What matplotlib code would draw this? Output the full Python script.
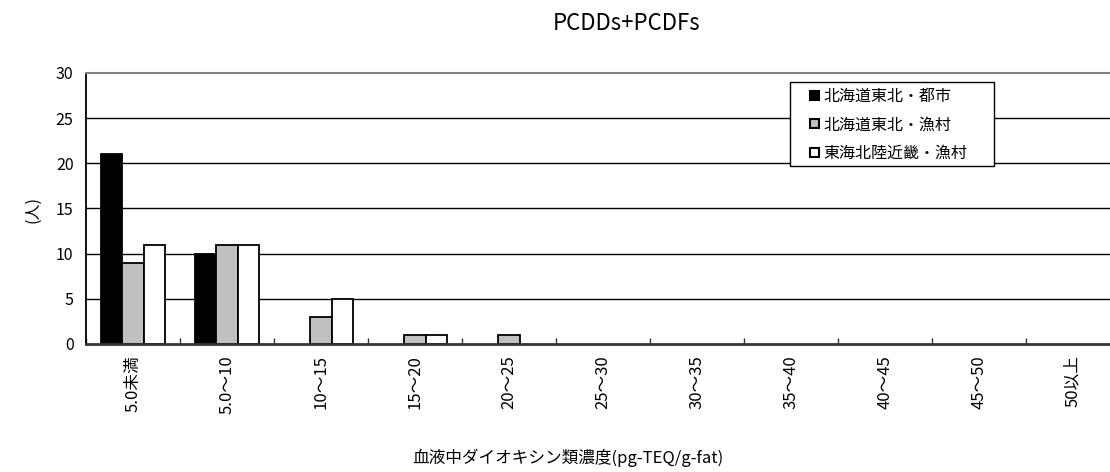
import matplotlib
matplotlib.use("agg")
import matplotlib.pyplot as plt
from matplotlib.patches import Rectangle, Patch
from matplotlib.legend_handler import HandlerPatch
import numpy as np

plt.rcParams['font.family'] = ['Noto Sans CJK JP', 'DejaVu Sans']

categories = ["5.0未満", "5.0～10", "10～15", "15～20", "20～25", "25～30",
              "30～35", "35～40", "40～45", "45～50", "50以上"]
series_names = ["北海道東北・都市", "北海道東北・漁村", "東海北陸近畿・漁村"]
toshi = [21, 10, 0, 0, 0, 0, 0, 0, 0, 0, 0]
gyoson_hokkaido = [9, 11, 3, 1, 1, 0, 0, 0, 0, 0, 0]
gyoson_tokai = [11, 11, 5, 1, 0, 0, 0, 0, 0, 0, 0]
yticks = [0, 5, 10, 15, 20, 25, 30]

colors = ["black", "#c0c0c0", "white"]

fig = plt.figure(figsize=(11.1, 4.72), dpi=100)
ax = fig.add_axes([86 / 1110, 128 / 472, 1034 / 1110, 271 / 472])

x = np.arange(len(categories))
w = 0.225
for i, vals in enumerate([toshi, gyoson_hokkaido, gyoson_tokai]):
    vals = np.array(vals)
    keep = vals > 0  # empty classes get no bar outline
    ax.bar(x[keep] + (i - 1) * w, vals[keep], w, color=colors[i],
           edgecolor="black", linewidth=1.3, zorder=3)

ax.set_xlim(-0.5, len(categories) - 0.5)
ax.set_ylim(0, 30)
ax.set_yticks(yticks)
ax.set_yticklabels([str(v) for v in yticks], fontsize=11.5)
ax.tick_params(axis="y", length=0, pad=9)

ax.set_xticks(x)
ax.set_xticklabels(categories, rotation=90, fontsize=12)
ax.set_xticks(np.arange(-0.5, len(categories), 1), minor=True)
ax.tick_params(axis="x", which="major", length=0, pad=8)
ax.tick_params(axis="x", which="minor", direction="in", length=4,
               width=1, color="#333333")

for v in yticks[1:-1]:
    ax.axhline(v, color="black", linewidth=1, zorder=1)

ax.spines["right"].set_visible(False)
ax.spines["top"].set_color("#808080")
ax.spines["top"].set_linewidth(1.5)
ax.spines["left"].set_color("black")
ax.spines["left"].set_linewidth(1.3)
ax.spines["bottom"].set_color("#333333")
ax.spines["bottom"].set_linewidth(2)
ax.spines["bottom"].set_zorder(4)


def small_key(legend, orig_handle, xdescent, ydescent, width, height, fontsize):
    # Excel style legend key: small square at the right end of the handle box
    s = 0.55 * fontsize
    return Rectangle((width - s - xdescent, (height - s) / 2 - ydescent), s, s)


# legend frame drawn by hand so it gets Excel's wide side margins
frame = Rectangle((790 / 1110, 1 - 166 / 472), 204 / 1110, 84 / 472,
                  transform=fig.transFigure, facecolor="white",
                  edgecolor="black", linewidth=1, zorder=5)
fig.patches.append(frame)

handles = [Patch(facecolor=c, edgecolor="black", linewidth=1.5) for c in colors]
leg = fig.legend(handles, series_names, loc="upper left",
                 bbox_to_anchor=(795 / 1110, 1 - 88 / 472),
                 fontsize=11.5, frameon=False,
                 handler_map={Patch: HandlerPatch(patch_func=small_key)},
                 handlelength=1.5, handleheight=0.55, handletextpad=0.3,
                 borderpad=0, labelspacing=0.72, borderaxespad=0)
leg.set_zorder(6)

fig.text(627 / 1110, 1 - 24 / 472, "PCDDs+PCDFs", fontsize=16,
         ha="center", va="center")
fig.text(568 / 1110, 1 - 458 / 472, "血液中ダイオキシン類濃度(pg-TEQ/g-fat)",
         fontsize=12, ha="center", va="center")
fig.text(33 / 1110, 1 - 210 / 472, "(人)", fontsize=11.5, rotation=90,
         ha="center", va="center")

fig.savefig("out.png", dpi=100)
